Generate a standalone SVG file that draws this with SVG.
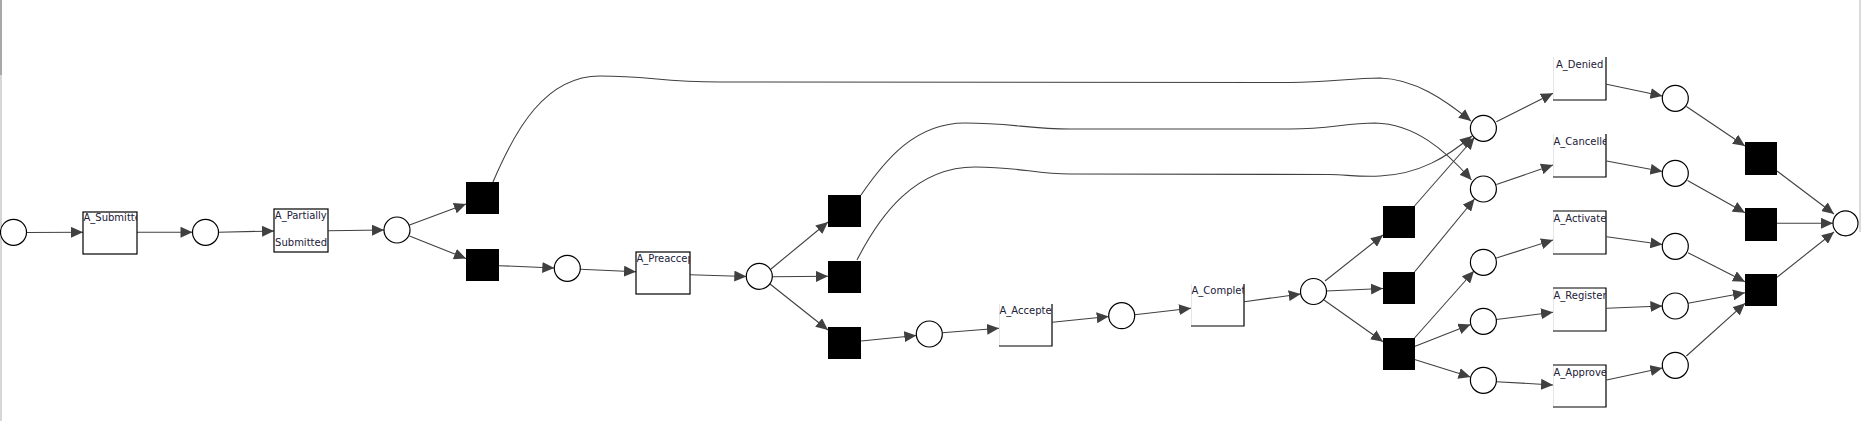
<svg xmlns="http://www.w3.org/2000/svg" width="1861" height="421" viewBox="0 0 1861 421">
<style>
.pl{fill:#fff;stroke:#000;stroke-width:1.2}
.tau{fill:#000;stroke:none}
.bx{fill:#fff;stroke:#000;stroke-width:1.2}
.bg{fill:#fff;stroke:none}
.fa{fill:none;stroke:#e6e6e6;stroke-width:1}
.dk{fill:none;stroke:#000;stroke-width:1.2}
.lb{font-family:"DejaVu Sans","Liberation Sans",sans-serif;font-size:10px;fill:#202038}
.e{fill:none;stroke:#404040;stroke-width:1.1;marker-end:url(#ah)}
</style>
<defs>
<marker id="ah" markerUnits="userSpaceOnUse" markerWidth="12" markerHeight="11" refX="12" refY="5.5" orient="auto" viewBox="0 0 12 11">
<path d="M0,0 L12,5.5 L0,11 z" fill="#404040"/>
</marker>
<clipPath id="c1"><rect x="83" y="212" width="54" height="42"/></clipPath>
<clipPath id="c2"><rect x="274" y="209" width="54" height="43"/></clipPath>
<clipPath id="c3"><rect x="636" y="252" width="54" height="42"/></clipPath>
<clipPath id="c4"><rect x="999" y="304" width="53" height="42"/></clipPath>
<clipPath id="c5"><rect x="1191" y="284" width="53" height="42"/></clipPath>
<clipPath id="c6"><rect x="1553" y="57" width="53" height="43"/></clipPath>
<clipPath id="c7"><rect x="1553" y="134" width="53" height="43"/></clipPath>
<clipPath id="c8"><rect x="1553" y="211" width="53" height="43"/></clipPath>
<clipPath id="c9"><rect x="1553" y="288" width="53" height="43"/></clipPath>
<clipPath id="c10"><rect x="1553" y="365" width="53" height="42"/></clipPath>
</defs>
<rect x="0" y="0" width="1861" height="421" fill="#fff"/>
<line x1="1" y1="0" x2="1" y2="421" stroke="#c8c8c8" stroke-width="1.5"/>
<line x1="1" y1="0" x2="1" y2="75" stroke="#999" stroke-width="1.5"/>
<line x1="1860" y1="0" x2="1860" y2="232" stroke="#cfcfcf" stroke-width="1.5"/>

<g id="connectors">
<path class="e" d="M26.5,232.5 L83,232.3"/>
<path class="e" d="M137,232.3 L192.5,232.2"/>
<path class="e" d="M218.5,232.2 L274,231"/>
<path class="e" d="M328.3,230.7 L384,230"/>
<path class="e" d="M409.5,225 L466,204"/>
<path class="e" d="M409.5,236 L466,258.5"/>
<path class="e" d="M493,182 C515,130 545,76 600,76 C650,76 660,82 720,82 L1290,82.5 C1330,82.5 1350,78 1380,78 C1415,79 1445,100 1471,121"/>
<path class="e" d="M499,265.7 L554.3,268"/>
<path class="e" d="M580.3,269.3 L636,271.7"/>
<path class="e" d="M690.3,274.7 L746.3,276.5"/>
<path class="e" d="M771,269 L828,222"/>
<path class="e" d="M772.3,276.7 L828,276.3"/>
<path class="e" d="M770,284 L828,330"/>
<path class="e" d="M861,195 C885,160 915,123 965,123 C1010,123 1030,129 1070,129 L1290,129 C1330,129 1345,123 1375,123 C1415,124 1445,150 1471.5,180"/>
<path class="e" d="M857,260 C880,215 915,167 975,167 C1020,167 1035,174 1070,174 L1330,174.5 C1348,175 1360,177 1380,176 C1420,174 1447,157 1472,136"/>
<path class="e" d="M861,341 L916.3,335.5"/>
<path class="e" d="M942.3,332.7 L999,328.3"/>
<path class="e" d="M1052.3,322.3 L1108.7,316.5"/>
<path class="e" d="M1134.7,314.7 L1191,308.3"/>
<path class="e" d="M1244.3,301.7 L1300.7,294"/>
<path class="e" d="M1325,281 L1383,235"/>
<path class="e" d="M1326.3,291 L1383,288.5"/>
<path class="e" d="M1324,300 L1383,341.7"/>
<path class="e" d="M1414.5,206 L1474.5,137.5"/>
<path class="e" d="M1414.5,272 L1474.5,199"/>
<path class="e" d="M1414.5,338 L1474,271"/>
<path class="e" d="M1414.5,346.5 L1470.5,324.5"/>
<path class="e" d="M1414.5,359.5 L1470.5,377"/>
<path class="e" d="M1496.4,121.7 L1553,93.3"/>
<path class="e" d="M1496.4,184.5 L1553,165"/>
<path class="e" d="M1496.4,258 L1553,240"/>
<path class="e" d="M1496.4,319.5 L1553,312.3"/>
<path class="e" d="M1496.4,381.7 L1553,385"/>
<path class="e" d="M1606.6,84.3 L1662.4,96"/>
<path class="e" d="M1606.6,161 L1662.4,171.5"/>
<path class="e" d="M1606.6,236.7 L1662.4,244.5"/>
<path class="e" d="M1606.6,308.3 L1662.4,306"/>
<path class="e" d="M1606.6,380 L1662.4,368"/>
<path class="e" d="M1686.4,106.5 L1745,146"/>
<path class="e" d="M1687.5,180.5 L1745,212.7"/>
<path class="e" d="M1688,252.7 L1745,281.7"/>
<path class="e" d="M1688,303.3 L1745,292.7"/>
<path class="e" d="M1686.4,356 L1745,303.3"/>
<path class="e" d="M1777,171 L1834,214"/>
<path class="e" d="M1777,223.3 L1833,223.3"/>
<path class="e" d="M1777,277.3 L1834,232"/>
</g>

<g id="p0"><circle class="pl" cx="13.5" cy="232.3" r="13"/></g>
<g id="p1"><circle class="pl" cx="205.5" cy="232.3" r="13"/></g>
<g id="p2"><circle class="pl" cx="397" cy="230" r="13"/></g>
<g id="p3"><circle class="pl" cx="567.3" cy="268.3" r="13"/></g>
<g id="p4"><circle class="pl" cx="759.3" cy="276.3" r="13"/></g>
<g id="p5"><circle class="pl" cx="929.3" cy="334" r="13"/></g>
<g id="p6"><circle class="pl" cx="1121.7" cy="315.7" r="13"/></g>
<g id="p7"><circle class="pl" cx="1313.5" cy="291.5" r="13"/></g>
<g id="pd"><circle class="pl" cx="1483.4" cy="128.3" r="13"/></g>
<g id="pc"><circle class="pl" cx="1483.4" cy="189" r="13"/></g>
<g id="pa"><circle class="pl" cx="1483.4" cy="262.3" r="13"/></g>
<g id="pr"><circle class="pl" cx="1483.4" cy="321.3" r="13"/></g>
<g id="pap"><circle class="pl" cx="1483.4" cy="380.3" r="13"/></g>
<g id="qd"><circle class="pl" cx="1675.3" cy="98.3" r="13"/></g>
<g id="qc"><circle class="pl" cx="1675.3" cy="173.3" r="13"/></g>
<g id="qa"><circle class="pl" cx="1675.3" cy="246.3" r="13"/></g>
<g id="qr"><circle class="pl" cx="1675.3" cy="306" r="13"/></g>
<g id="qap"><circle class="pl" cx="1675.3" cy="365.3" r="13"/></g>
<g id="pend"><circle class="pl" cx="1845.5" cy="223.3" r="12.5"/></g>

<g id="t1"><rect class="tau" x="466" y="182" width="33" height="32"/></g>
<g id="t2"><rect class="tau" x="466" y="249" width="33" height="32"/></g>
<g id="t3"><rect class="tau" x="828" y="195" width="33" height="32"/></g>
<g id="t4"><rect class="tau" x="828" y="261" width="33" height="32"/></g>
<g id="t5"><rect class="tau" x="828" y="327" width="33" height="32"/></g>
<g id="ta"><rect class="tau" x="1383" y="206" width="32" height="32"/></g>
<g id="tb"><rect class="tau" x="1383" y="272" width="32" height="32"/></g>
<g id="tc"><rect class="tau" x="1383" y="338" width="32" height="32"/></g>
<g id="u1"><rect class="tau" x="1745" y="142" width="32" height="33"/></g>
<g id="u2"><rect class="tau" x="1745" y="208" width="32" height="33"/></g>
<g id="u3"><rect class="tau" x="1745" y="274" width="32" height="32"/></g>

<g id="A_Submitted"><rect class="bx" x="83" y="212" width="54" height="42"/><text class="lb" x="83.5" y="221" clip-path="url(#c1)">A_Submitted</text></g>
<g id="A_Partially_Submitted"><rect class="bx" x="274" y="209" width="54" height="43"/><text class="lb" clip-path="url(#c2)"><tspan x="274.8" y="219">A_Partially</tspan><tspan x="275.1" y="245.7">Submitted</tspan></text></g>
<g id="A_Preaccepted"><rect class="bx" x="636" y="252" width="54" height="42"/><text class="lb" x="636.5" y="262.3" clip-path="url(#c3)">A_Preaccepted</text></g>
<g id="A_Accepted"><rect class="bg" x="999" y="304" width="53" height="42"/><path class="fa" d="M999.5,304 V346"/><path class="dk" d="M1052,304 V346 H999"/><text class="lb" x="999.5" y="314.3" clip-path="url(#c4)">A_Accepted</text></g>
<g id="A_Completed"><rect class="bg" x="1191" y="284" width="53" height="42"/><path class="fa" d="M1191.5,284 V326"/><path class="dk" d="M1244,284 V326 H1191"/><text class="lb" x="1191.5" y="294" clip-path="url(#c5)">A_Completed</text></g>
<g id="A_Denied"><rect class="bg" x="1553" y="57" width="53" height="43"/><path class="fa" d="M1553.5,57 V100"/><path class="dk" d="M1606,57 V100 H1553"/><text class="lb" x="1556" y="68" clip-path="url(#c6)">A_Denied</text></g>
<g id="A_Cancelled"><rect class="bg" x="1553" y="134" width="53" height="43"/><path class="fa" d="M1553.5,134 V177"/><path class="dk" d="M1606,134 V177 H1553"/><text class="lb" x="1553.5" y="144.5" clip-path="url(#c7)">A_Cancelled</text></g>
<g id="A_Activated"><rect class="bg" x="1553" y="211" width="53" height="43"/><path class="fa" d="M1553.5,211 V254"/><path class="dk" d="M1553,211 H1606 V254 H1553"/><text class="lb" x="1553.5" y="221.5" clip-path="url(#c8)">A_Activated</text></g>
<g id="A_Registered"><rect class="bg" x="1553" y="288" width="53" height="43"/><path class="fa" d="M1553.5,288 V331"/><path class="dk" d="M1553,288 H1606 V331 H1553"/><text class="lb" x="1553.5" y="298.5" clip-path="url(#c9)">A_Registered</text></g>
<g id="A_Approved"><rect class="bg" x="1553" y="365" width="53" height="42"/><path class="fa" d="M1553.5,365 V407"/><path class="dk" d="M1553,365 H1606 V407 H1553"/><text class="lb" x="1553.5" y="375.5" clip-path="url(#c10)">A_Approved</text></g>
</svg>
